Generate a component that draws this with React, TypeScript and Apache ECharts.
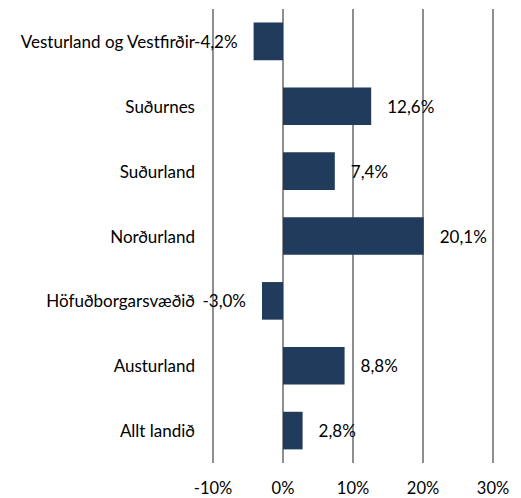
import React, { useEffect, useRef } from "react";
import * as echarts from "echarts";

const categories = [
  "Vesturland og Vestfirðir",
  "Suðurnes",
  "Suðurland",
  "Norðurland",
  "Höfuðborgarsvæðið",
  "Austurland",
  "Allt landið",
];
const values = [-4.2, 12.6, 7.4, 20.1, -3.0, 8.8, 2.8];
const axisMin = -10;
const axisMax = 30;
const axisStep = 10;

const FONT = "Lato, 'Noto Sans', sans-serif";
const FS = 17;

export default function App() {
  const ref = useRef<HTMLDivElement>(null);
  useEffect(() => {
    document.body.style.margin = "0";
    if (!ref.current) return;
    const chart = echarts.init(ref.current, null, { renderer: "svg" });
    chart.setOption({
      animation: false,
      textStyle: { fontFamily: FONT },
      grid: { left: 213, right: 28, top: 9, bottom: 35, containLabel: false },
      xAxis: {
        type: "value",
        min: axisMin,
        max: axisMax,
        interval: axisStep,
        axisLine: { show: false },
        axisTick: { show: false },
        axisLabel: {
          formatter: (v: number) => `${v}%`,
          color: "#000",
          fontSize: 16.5,
          lineHeight: 18,
          fontFamily: FONT,
          margin: 16,
        },
        splitLine: { show: true, lineStyle: { color: "#8F8F8F", width: 2 } },
      },
      yAxis: {
        type: "category",
        data: categories,
        inverse: true,
        axisLine: { show: false },
        axisTick: { show: false },
        axisLabel: {
          color: "#000",
          fontSize: FS,
          fontFamily: FONT,
          margin: 18,
        },
        splitLine: { show: false },
      },
      series: [
        {
          type: "bar",
          barCategoryGap: "42%",
          data: values.map((v) => ({
            value: v,
            label: {
              show: true,
              position: v < 0 ? "left" : "right",
              distance: 16,
              formatter: () => `${v.toFixed(1).replace(".", ",")}%`,
              color: "#000",
              fontSize: FS,
              fontFamily: FONT,
            },
          })),
          itemStyle: { color: "#203B5C" },
        },
      ],
    });
    return () => chart.dispose();
  }, []);
  return <div ref={ref} style={{ width: 521, height: 498 }} />;
}
